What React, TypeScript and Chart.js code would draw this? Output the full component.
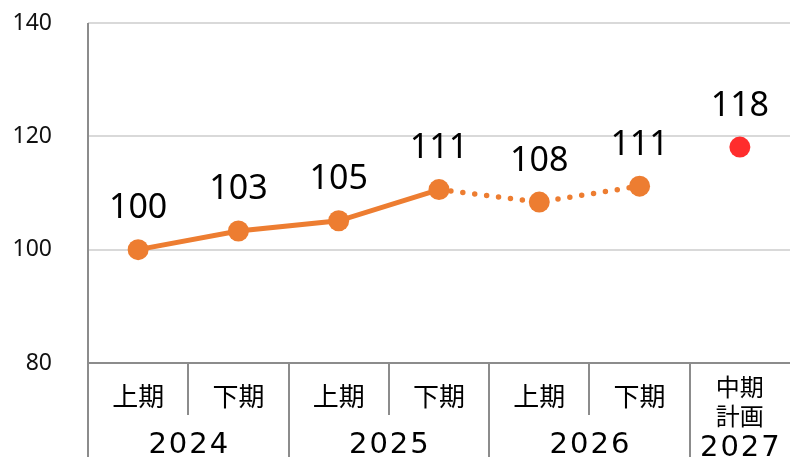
import React, { useEffect, useRef } from 'react';
import { Chart, registerables } from 'chart.js';
Chart.register(...registerables);

const categories = ['上期', '下期', '上期', '下期', '上期', '下期', '中期計画'];
const halfLabels = [['上期'], ['下期'], ['上期'], ['下期'], ['上期'], ['下期'], ['中期', '計画']];
const years = ['2024', '2025', '2026', '2027'];
const yearSpans = [[0, 1], [2, 3], [4, 5], [6, 6]];
const values = [100, 103.3, 105.1, 110.6, 108.4, 111.2, 118.1];
const valueLabels = ['100', '103', '105', '111', '108', '111', '118'];
const yMin = 80;
const yMax = 140;
const yStep = 20;
const dottedFrom = 3;
const planIndex = 6;

const ORANGE = '#ED7D31';
const RED = '#FF2D2D';
const AXIS = '#8c8c8c';
const GRID = '#d9d9d9';

const zeroPad = (s: any) => {
  s.paddingTop = 0;
  s.paddingBottom = 0;
  s.paddingLeft = 0;
  s.paddingRight = 0;
};

export default function App() {
  const ref = useRef<HTMLCanvasElement>(null);
  useEffect(() => {
    document.body.style.margin = '0';
    const canvas = ref.current!;
    const overlay = {
      id: 'overlay',
      afterDatasetsDraw(chart: any) {
        const { ctx } = chart;
        const meta = chart.getDatasetMeta(0);
        ctx.save();
        ctx.fillStyle = '#000';
        ctx.font = '34px "Noto Sans", "Open Sans", sans-serif';
        ctx.textAlign = 'center';
        ctx.textBaseline = 'alphabetic';
        meta.data.forEach((pt: any, i: number) => {
          ctx.fillText(valueLabels[i], pt.x, pt.y - 31.5);
        });
        ctx.restore();
      },
      afterDraw(chart: any) {
        const { ctx, chartArea } = chart;
        const { left, right, top, bottom } = chartArea;
        const H = chart.height;
        const xs = chart.scales.x;
        ctx.save();
        ctx.strokeStyle = AXIS;
        ctx.lineWidth = 2;
        const line = (x1: number, y1: number, x2: number, y2: number) => {
          ctx.beginPath();
          ctx.moveTo(x1, y1);
          ctx.lineTo(x2, y2);
          ctx.stroke();
        };
        line(left, bottom, right, bottom);
        line(left, top, left, H);
        const yearEnds = new Set(yearSpans.map((s) => s[1]));
        for (let i = 0; i < categories.length - 1; i++) {
          const bx = Math.round((xs.getPixelForValue(i) + xs.getPixelForValue(i + 1)) / 2);
          line(bx, bottom, bx, yearEnds.has(i) ? H : bottom + 52);
        }
        ctx.fillStyle = '#000';
        ctx.textAlign = 'center';
        ctx.textBaseline = 'middle';
        halfLabels.forEach((lines, i) => {
          const cx = xs.getPixelForValue(i);
          if (lines.length === 1) {
            ctx.font = '26px "Noto Sans CJK JP", sans-serif';
            ctx.fillText(lines[0], cx, bottom + 33);
          } else {
            ctx.font = '24px "Noto Sans CJK JP", sans-serif';
            lines.forEach((t, k) => ctx.fillText(t, cx, bottom + 24 + k * 29));
          }
        });
        ctx.textBaseline = 'alphabetic';
        ctx.font = '29px "DejaVu Sans", sans-serif';
        (ctx as any).letterSpacing = '2px';
        yearSpans.forEach((s, k) => {
          const cx = (xs.getPixelForValue(s[0]) + xs.getPixelForValue(s[1])) / 2 + 1;
          const by = s[0] === s[1] ? bottom + 93 : bottom + 90;
          ctx.fillText(years[k], cx, by);
        });
        (ctx as any).letterSpacing = '0px';
        ctx.restore();
      },
    };

    const chart = new Chart(canvas, {
      type: 'line',
      data: {
        labels: categories,
        datasets: [
          {
            data: values,
            borderColor: ORANGE,
            borderWidth: 5,
            pointRadius: 10.5,
            pointHoverRadius: 10.5,
            pointBorderWidth: 0,
            pointBackgroundColor: values.map((_, i) => (i === planIndex ? RED : ORANGE)),
            tension: 0,
            segment: {
              borderDash: (c: any) => (c.p0DataIndex >= dottedFrom ? [0, 12] : undefined),
              borderWidth: (c: any) => (c.p0DataIndex >= dottedFrom ? 5.5 : undefined),
              borderCapStyle: (c: any) => (c.p0DataIndex >= dottedFrom ? 'round' : undefined),
              borderColor: (c: any) => (c.p1DataIndex === planIndex ? 'rgba(0,0,0,0)' : undefined),
            } as any,
          },
        ],
      },
      plugins: [overlay],
      options: {
        animation: false,
        responsive: false,
        clip: false,
        layout: { autoPadding: false, padding: { top: 23, bottom: 94, left: 0, right: 0 } },
        plugins: { legend: { display: false }, tooltip: { enabled: false } },
        scales: {
          x: { type: 'category', offset: true, display: false, afterFit: zeroPad },
          y: {
            min: yMin,
            max: yMax,
            ticks: {
              stepSize: yStep,
              padding: 36,
              color: '#111',
              font: { family: '"Noto Sans", "Open Sans", sans-serif', size: 23 },
            },
            border: { display: false },
            grid: {
              drawTicks: false,
              lineWidth: 2,
              color: (c: any) => (c.tick && c.tick.value === yMin ? 'rgba(0,0,0,0)' : GRID),
            },
            afterFit: (s: any) => {
              s.width = 88;
              zeroPad(s);
            },
          },
        },
      },
    } as any);
    return () => chart.destroy();
  }, []);
  return (
    <div style={{ width: 790, height: 457 }}>
      <canvas ref={ref} width={790} height={457} style={{ display: 'block' }} />
    </div>
  );
}
